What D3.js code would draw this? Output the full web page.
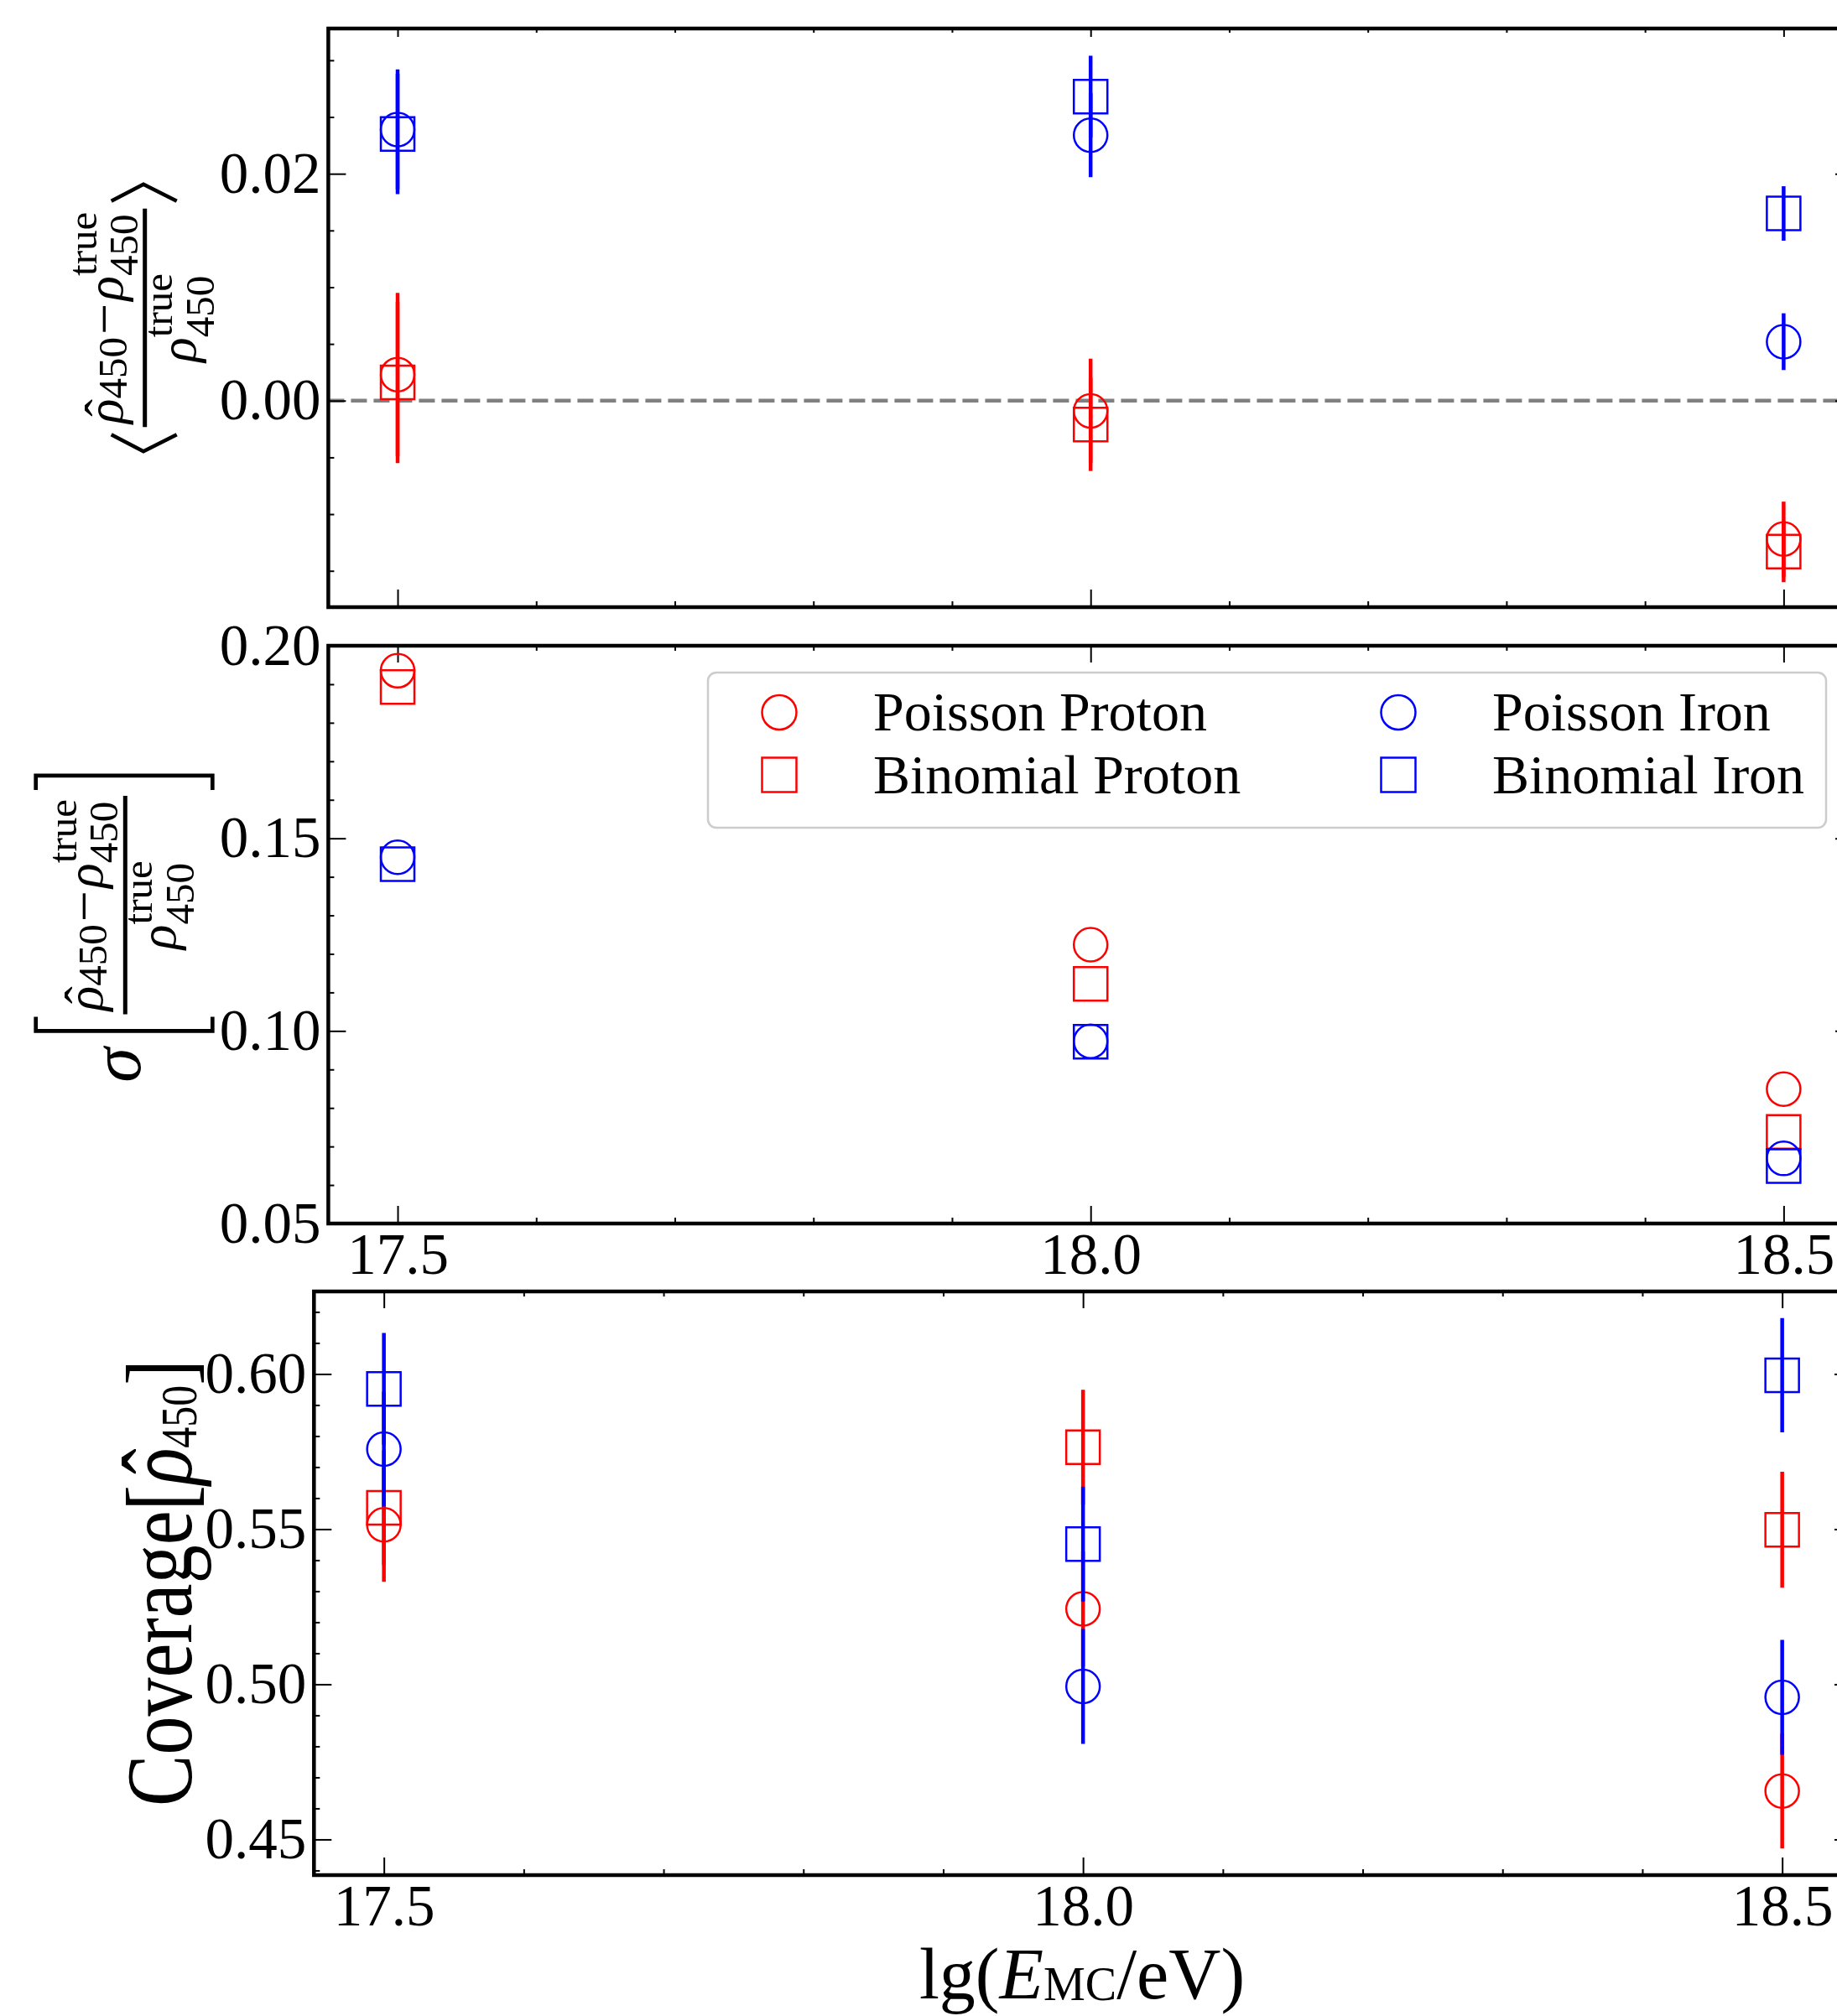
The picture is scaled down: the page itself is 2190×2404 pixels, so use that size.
<!DOCTYPE html>
<html>
<head>
<meta charset="utf-8">
<script src="https://cdn.jsdelivr.net/npm/d3@7"></script>
<style>
  body { margin: 0; background: #fff; }
  text { font-family: "Liberation Serif", "Times New Roman", serif; fill: #000; }
</style>
</head>
<body>
<div id="chart"></div>
<script>
// ---- data ----
var energies = [17.5, 18.0, 18.5];
var seriesNames = ["Poisson Proton", "Binomial Proton", "Poisson Iron", "Binomial Iron"];
var seriesColors = ["#ff0000", "#ff0000", "#0000ff", "#0000ff"];
var seriesSymbols = ["circle", "square", "circle", "square"];

// mean relative bias of rho450
var biasValues = [
  [0.0023, -0.0009, -0.0122],
  [0.0016, -0.0021, -0.0133],
  [0.0239, 0.0234, 0.0052],
  [0.0235, 0.0268, 0.0165]
];
var biasErrors = [
  [0.0072, 0.0046, 0.0033],
  [0.0071, 0.0041, 0.0027],
  [0.0053, 0.0037, 0.0025],
  [0.0053, 0.0036, 0.0024]
];

// spread of the relative bias
var resolutionValues = [
  [0.1935, 0.1224, 0.0849],
  [0.1893, 0.1122, 0.0738],
  [0.1451, 0.0973, 0.0669],
  [0.1433, 0.0972, 0.0649]
];

// coverage
var coverageValues = [
  [0.5514, 0.5243, 0.4656],
  [0.5569, 0.5764, 0.5498],
  [0.5758, 0.4993, 0.4958],
  [0.5952, 0.5452, 0.5996]
];
var coverageErrors = [
  [0.0184, 0.0185, 0.0185],
  [0.0185, 0.0185, 0.0187],
  [0.0185, 0.0185, 0.0185],
  [0.0180, 0.0185, 0.0184]
];

var xTicks = [17.5, 18.0, 18.5];
var xMinorTicks = [17.6, 17.7, 17.8, 17.9, 18.1, 18.2, 18.3, 18.4];
var biasTicks = [0.00, 0.02];
var biasMinorTicks = [-0.015, -0.01, -0.005, 0.005, 0.01, 0.015, 0.025, 0.03];
var resolutionTicks = [0.05, 0.10, 0.15, 0.20];
var resolutionMinorTicks = [0.06, 0.07, 0.08, 0.09, 0.11, 0.12, 0.13, 0.14, 0.16, 0.17, 0.18, 0.19];
var coverageTicks = [0.45, 0.50, 0.55, 0.60];
var coverageMinorTicks = [0.44, 0.46, 0.47, 0.48, 0.49, 0.51, 0.52, 0.53, 0.54, 0.56, 0.57, 0.58, 0.59, 0.61, 0.62];

var W = 2190, H = 2404;
var svg = d3.select("#chart").append("svg")
    .attr("width", W)
    .attr("height", H)
    .style("display", "block");

var tickFont = 69;

var panels = [
  { left: 391.4, right: 2209, top: 34, bottom: 724, yDomain: [-0.0182, 0.0328],
    ticks: biasTicks, minor: biasMinorTicks, values: biasValues, errors: biasErrors,
    xLabels: false, topMajor: 10, topMinor: 5, zeroLine: true },
  { left: 391.4, right: 2209, top: 770, bottom: 1459, yDomain: [0.05, 0.20],
    ticks: resolutionTicks, minor: resolutionMinorTicks, values: resolutionValues, errors: null,
    xLabels: true, topMajor: 20, topMinor: 6, zeroLine: false },
  { left: 374.3, right: 2208, top: 1540, bottom: 2236, yDomain: [0.4385, 0.6266],
    ticks: coverageTicks, minor: coverageMinorTicks, values: coverageValues, errors: coverageErrors,
    xLabels: true, topMajor: 20, topMinor: 6, zeroLine: false }
];

function styleAxis(sel, showLabels) {
  sel.select(".domain").remove();
  sel.selectAll(".tick line").attr("stroke", "#000").attr("stroke-width", 2);
  sel.attr("font-family", null).attr("font-size", null);
  if (!showLabels) sel.selectAll(".tick text").remove();
  else sel.selectAll(".tick text").style("font-size", tickFont + "px").attr("fill", "#000");
}

function drawPanel(cfg) {
  var x = d3.scaleLinear().domain([17.45, 18.55]).range([cfg.left, cfg.right]);
  var y = d3.scaleLinear().domain(cfg.yDomain).range([cfg.bottom, cfg.top]);
  var g = svg.append("g");

  if (cfg.zeroLine) {
    g.append("line")
      .attr("x1", cfg.left).attr("x2", cfg.right)
      .attr("y1", y(0)).attr("y2", y(0))
      .attr("stroke", "#808080")
      .attr("stroke-width", 4.5)
      .attr("stroke-dasharray", "19,8");
  }

  // ticks, all pointing into the axes
  g.append("g").attr("transform", "translate(" + cfg.left + ",0)")
    .call(d3.axisLeft(y).tickValues(cfg.ticks).tickSize(-21).tickPadding(9).tickFormat(d3.format(".2f")))
    .call(styleAxis, true);
  g.append("g").attr("transform", "translate(" + cfg.left + ",0)")
    .call(d3.axisLeft(y).tickValues(cfg.minor).tickSize(-7).tickFormat(""))
    .call(styleAxis, false);
  g.append("g").attr("transform", "translate(" + cfg.right + ",0)")
    .call(d3.axisRight(y).tickValues(cfg.ticks).tickSize(-21).tickFormat(""))
    .call(styleAxis, false);
  g.append("g").attr("transform", "translate(" + cfg.right + ",0)")
    .call(d3.axisRight(y).tickValues(cfg.minor).tickSize(-7).tickFormat(""))
    .call(styleAxis, false);

  g.append("g").attr("transform", "translate(0," + cfg.bottom + ")")
    .call(d3.axisBottom(x).tickValues(xTicks).tickSize(-21).tickPadding(11).tickFormat(d3.format(".1f")))
    .call(styleAxis, cfg.xLabels);
  g.append("g").attr("transform", "translate(0," + cfg.bottom + ")")
    .call(d3.axisBottom(x).tickValues(xMinorTicks).tickSize(-7).tickFormat(""))
    .call(styleAxis, false);
  g.append("g").attr("transform", "translate(0," + cfg.top + ")")
    .call(d3.axisTop(x).tickValues(xTicks).tickSize(-cfg.topMajor).tickFormat(""))
    .call(styleAxis, false);
  g.append("g").attr("transform", "translate(0," + cfg.top + ")")
    .call(d3.axisTop(x).tickValues(xMinorTicks).tickSize(-cfg.topMinor).tickFormat(""))
    .call(styleAxis, false);

  // data: error bars and open markers, series drawn in legend order
  seriesNames.forEach(function (name, i) {
    var pts = energies.map(function (e, j) {
      return { x: e, y: cfg.values[i][j], err: cfg.errors ? cfg.errors[i][j] : 0 };
    });
    var sg = g.append("g").attr("class", "series s" + i);
    if (cfg.errors) {
      sg.selectAll("line.err").data(pts).enter().append("line")
        .attr("class", "err")
        .attr("x1", function (d) { return x(d.x); })
        .attr("x2", function (d) { return x(d.x); })
        .attr("y1", function (d) { return y(d.y - d.err); })
        .attr("y2", function (d) { return y(d.y + d.err); })
        .attr("stroke", seriesColors[i])
        .attr("stroke-width", 4.5);
    }
    var sym = d3.symbol()
      .type(seriesSymbols[i] === "circle" ? d3.symbolCircle : d3.symbolSquare)
      .size(seriesSymbols[i] === "circle" ? Math.PI * 20 * 20 : 40 * 40);
    sg.selectAll("path.mk").data(pts).enter().append("path")
      .attr("class", "mk")
      .attr("transform", function (d) { return "translate(" + x(d.x) + "," + y(d.y) + ")"; })
      .attr("d", sym)
      .attr("fill", "none")
      .attr("stroke", seriesColors[i])
      .attr("stroke-width", 2.5);
  });

  g.append("rect")
    .attr("x", cfg.left).attr("y", cfg.top)
    .attr("width", cfg.right - cfg.left).attr("height", cfg.bottom - cfg.top)
    .attr("fill", "none")
    .attr("stroke", "#000")
    .attr("stroke-width", 4.5);
}

panels.forEach(drawPanel);

// ---- legend (inside the middle panel) ----
var legend = svg.append("g").attr("class", "legend");
legend.append("rect")
  .attr("x", 844).attr("y", 802)
  .attr("width", 1333).attr("height", 185)
  .attr("rx", 10)
  .attr("fill", "#fff").attr("fill-opacity", 0.8)
  .attr("stroke", "#cccccc").attr("stroke-width", 2.5);

var legendCols = [929, 1667], legendRows = [849.5, 924];
seriesNames.forEach(function (name, i) {
  var cx = legendCols[Math.floor(i / 2)], cy = legendRows[i % 2];
  var sym = d3.symbol()
    .type(seriesSymbols[i] === "circle" ? d3.symbolCircle : d3.symbolSquare)
    .size(seriesSymbols[i] === "circle" ? Math.PI * 20.5 * 20.5 : 41 * 41);
  legend.append("path")
    .attr("transform", "translate(" + cx + "," + cy + ")")
    .attr("d", sym)
    .attr("fill", "none")
    .attr("stroke", seriesColors[i])
    .attr("stroke-width", 2.5);
  legend.append("text")
    .attr("x", cx + 112).attr("y", cy + 21.5)
    .style("font-size", "66px")
    .text(name);
});

// ---- math labels ----
function mathRow(parent, parts, cx, base) {
  var row = parent.append("g");
  var pos = 0;
  parts.forEach(function (p) {
    var pad = p.pad || 0, w;
    pos += pad;
    if (p.sup !== undefined) {
      var a = row.append("text").attr("x", pos).attr("y", base + p.supDy)
        .style("font-size", p.size + "px").text(p.sup);
      var b = row.append("text").attr("x", pos).attr("y", base + p.subDy)
        .style("font-size", p.size + "px").text(p.sub);
      w = Math.max(a.node().getComputedTextLength(), b.node().getComputedTextLength());
    } else {
      var t = row.append("text").attr("x", pos).attr("y", base + (p.dy || 0))
        .style("font-size", p.size + "px")
        .style("font-style", p.italic ? "italic" : "normal")
        .text(p.t);
      w = t.node().getComputedTextLength();
      if (p.hat) {
        row.append("text")
          .attr("x", pos + w / 2 + (p.hatDx || 0)).attr("y", base + (p.hatDy || 0))
          .attr("text-anchor", "middle")
          .style("font-size", p.size + "px")
          .text("\u02C6");
      }
    }
    pos += w + pad;
  });
  row.attr("transform", "translate(" + (cx - pos / 2) + ",0)");
  return pos;
}

var numParts = [
  { t: "\u03C1", size: 62, italic: true, hat: true, hatDx: 4, hatDy: -2 },
  { t: "450", size: 49, dy: 5 },
  { t: "\u2212", size: 66, pad: 3 },
  { t: "\u03C1", size: 62, italic: true },
  { sup: "true", sub: "450", size: 49, supDy: -31, subDy: 18 }
];
var denParts = [
  { t: "\u03C1", size: 62, italic: true },
  { sup: "true", sub: "450", size: 49, supDy: -28, subDy: 22 }
];

function fraction(parent, cx, barY) {
  var nw = mathRow(parent, numParts, cx, barY - 27);
  var dw = mathRow(parent, denParts, cx, barY + 60);
  var w = Math.max(nw, dw) + 8;
  parent.append("line")
    .attr("x1", cx - w / 2).attr("x2", cx + w / 2)
    .attr("y1", barY).attr("y2", barY)
    .attr("stroke", "#000").attr("stroke-width", 5);
  return w;
}

// top panel: < fraction >
var lab1 = svg.append("g").attr("transform", "translate(0,379) rotate(-90)");
var w1 = fraction(lab1, 0, 172.7);
[-1, 1].forEach(function (s) {
  var arm = s * (w1 / 2 + 9), tip = s * (w1 / 2 + 29);
  lab1.append("path")
    .attr("d", "M" + arm + "," + (172.7 - 40) + "L" + tip + ",171L" + arm + "," + (172.7 + 38))
    .attr("fill", "none").attr("stroke", "#000").attr("stroke-width", 4.5);
});

// middle panel: sigma [ fraction ]
var lab2 = svg.append("g").attr("transform", "translate(0,1114.5) rotate(-90)");
var fc2 = 35.3, bar2 = 149.3;
var w2 = fraction(lab2, fc2, bar2);
var bl = fc2 - w2 / 2 - 20, br = fc2 + w2 / 2 + 24;
lab2.append("path")
  .attr("d", "M" + (bl + 17) + ",42.7H" + bl + "V253.3H" + (bl + 17))
  .attr("fill", "none").attr("stroke", "#000").attr("stroke-width", 4.7);
lab2.append("path")
  .attr("d", "M" + (br - 17) + ",42.7H" + br + "V253.3H" + (br - 17))
  .attr("fill", "none").attr("stroke", "#000").attr("stroke-width", 4.7);
lab2.append("text")
  .attr("x", bl - 20).attr("y", 167)
  .attr("text-anchor", "end")
  .style("font-size", "84px").style("font-style", "italic")
  .text("\u03C3");

// bottom panel: Coverage[rho-hat_450] (drawn slightly stretched across the text)
var covK = 1.23;
var lab3 = svg.append("g").attr("transform", "translate(0,1887.5) rotate(-90) scale(1," + covK + ")");
mathRow(lab3, [
  { t: "Coverage[", size: 92 },
  { t: "\u03C1", size: 92, italic: true, hat: true, hatDx: 6, hatDy: -4 },
  { t: "450", size: 50, dy: 5 },
  { t: "]", size: 92 }
], 0, 228.3 / covK);

// x axis label
var labX = svg.append("g");
mathRow(labX, [
  { t: "lg(", size: 86 },
  { t: "E", size: 86, italic: true },
  { t: "MC", size: 56, dy: 2 },
  { t: "/eV)", size: 86 }
], 1290, 2383);
</script>
</body>
</html>
